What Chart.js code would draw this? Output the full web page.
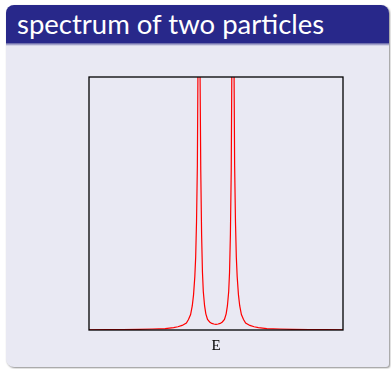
<!DOCTYPE html>
<html>
<head>
<meta charset="utf-8">
<script src="https://cdn.jsdelivr.net/npm/chart.js@4"></script>
<style>
  html, body { margin: 0; padding: 0; background: #ffffff; }
  #page { position: relative; width: 391px; height: 369px; overflow: hidden; }
  .block {
    position: absolute; left: 6px; top: 5px; width: 383px; height: 362px;
    background: #e9e9f3; border-radius: 8px 8px 3px 8px;
    box-shadow: 1px 1px 2px rgba(0, 0, 0, 0.45);
    overflow: hidden;
  }
  .block-title {
    height: 38px; background: #28288a; color: #ffffff;
    font-family: Lato, sans-serif; font-size: 27.5px; line-height: 37px;
    padding-left: 11px; box-sizing: border-box;
  }
  .block-title-shade {
    height: 3px; background: linear-gradient(#5a5aa0, #e9e9f3);
  }
  #spectrum { position: absolute; left: 0; top: 0; }
</style>
</head>
<body>
<div id="page">
  <div class="block">
    <div class="block-title">spectrum of two particles</div>
    <div class="block-title-shade"></div>
  </div>
  <canvas id="spectrum" width="391" height="369"></canvas>
</div>
<script>
// energy grid and spectral intensity (two narrow resonances at E = ±0.4)
const energies = [
  -3.0, -2.6, -2.2, -1.8, -1.5, -1.2, -1.0, -0.9, -0.8, -0.7, -0.65, -0.6,
  -0.56, -0.53, -0.5, -0.48, -0.46, -0.44, -0.42, -0.41, -0.4,
  -0.39, -0.38, -0.36, -0.34, -0.32, -0.3, -0.27, -0.24, -0.2, -0.15, -0.1, -0.05,
  0.0,
  0.05, 0.1, 0.15, 0.2, 0.24, 0.27, 0.3, 0.32, 0.34, 0.36, 0.38, 0.39,
  0.4, 0.41, 0.42, 0.44, 0.46, 0.48, 0.5, 0.53, 0.56, 0.6, 0.65, 0.7,
  0.8, 0.9, 1.0, 1.2, 1.5, 1.8, 2.2, 2.6, 3.0
];
const intensity = [
  0.025, 0.03, 0.042, 0.064, 0.1, 0.14, 0.23, 0.32, 0.45, 0.69, 1.04, 1.53,
  2.4, 3.5, 5.3, 7.2, 10.7, 16.3, 30, 45, 120,
  45, 30, 15.8, 9.4, 5.7, 3.8, 2.4, 1.6, 1.04, 0.79, 0.65, 0.59,
  0.56,
  0.59, 0.65, 0.79, 1.04, 1.6, 2.4, 3.8, 5.7, 9.4, 15.8, 30, 45,
  120, 45, 30, 16.3, 10.7, 7.2, 5.3, 3.5, 2.4, 1.53, 1.04, 0.69,
  0.45, 0.32, 0.23, 0.14, 0.1, 0.064, 0.042, 0.03, 0.025
];
const xRange = [-3, 3];
const yRange = [0, 25];

// plain black frame round the plot area
const frameBox = {
  id: 'frameBox',
  afterDatasetsDraw(chart) {
    const { ctx, chartArea: a } = chart;
    ctx.save();
    ctx.strokeStyle = '#000000';
    ctx.lineWidth = 1.3;
    ctx.strokeRect(a.left, a.top, a.right - a.left, a.bottom - a.top);
    ctx.restore();
  }
};

new Chart(document.getElementById('spectrum'), {
  type: 'line',
  data: {
    datasets: [{
      data: energies.map((e, i) => ({ x: e, y: intensity[i] })),
      borderColor: '#ff0000',
      borderWidth: 1.2,
      pointRadius: 0,
      tension: 0,
      fill: false
    }]
  },
  plugins: [frameBox],
  options: {
    responsive: false,
    animation: false,
    layout: { padding: { left: 89, right: 48, top: 77, bottom: 14 } },
    plugins: { legend: { display: false }, tooltip: { enabled: false } },
    scales: {
      x: {
        type: 'linear',
        min: xRange[0],
        max: xRange[1],
        ticks: { display: false },
        grid: { display: false, drawTicks: false },
        border: { display: false },
        title: {
          display: true,
          text: 'E',
          color: '#000000',
          font: { family: '"Liberation Serif", serif', size: 15 },
          padding: { top: 7, bottom: 0 }
        }
      },
      y: {
        display: false,
        min: yRange[0],
        max: yRange[1]
      }
    }
  }
});
</script>
</body>
</html>
